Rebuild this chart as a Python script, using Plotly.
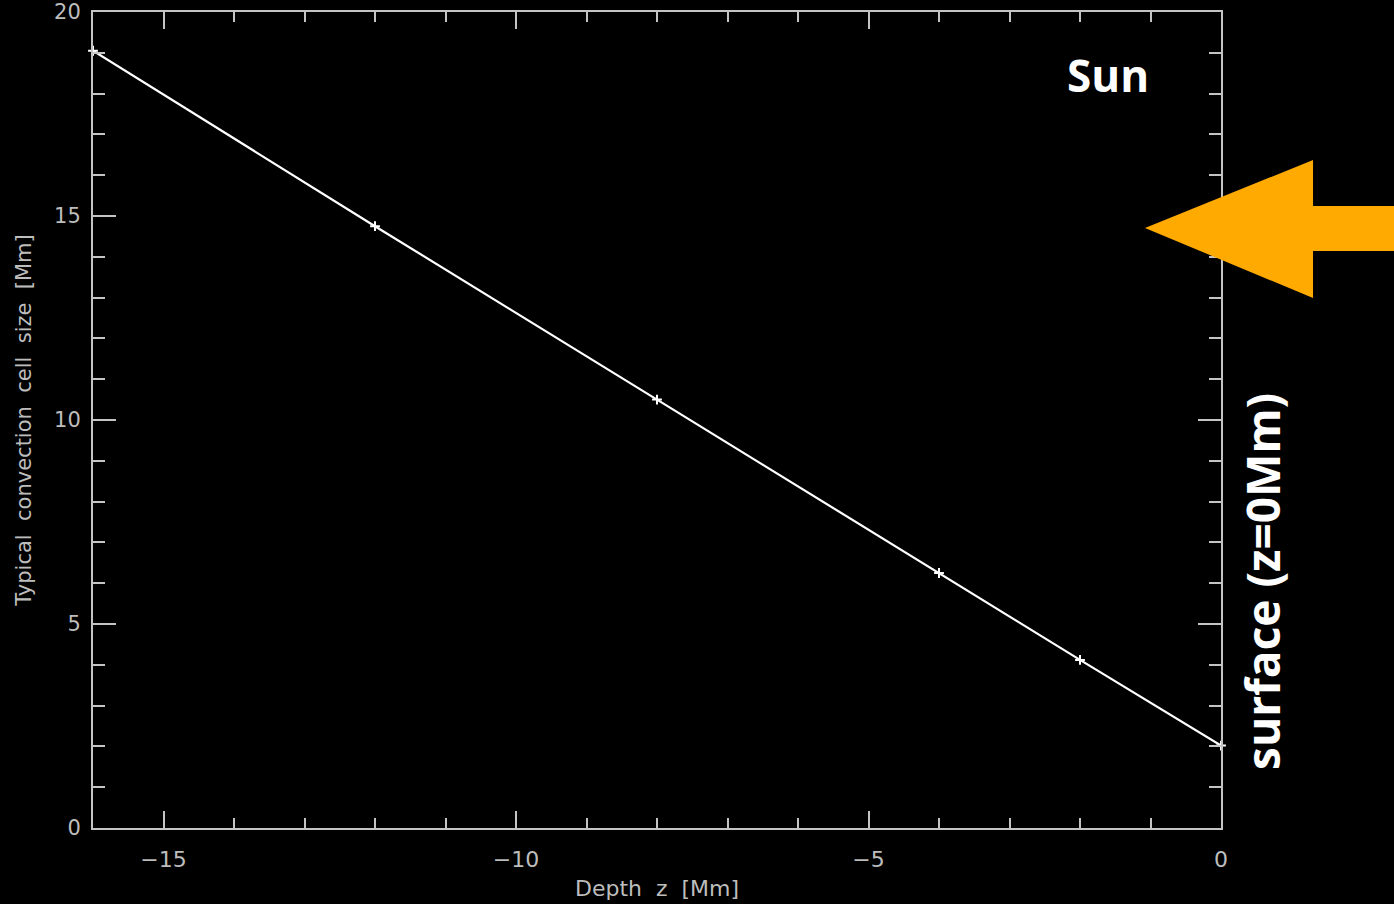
import plotly.graph_objects as go

# Data
depth_z = [-16, -12, -8, -4, -2, 0]
cell_size = [19.05, 14.75, 10.5, 6.25, 4.12, 2.02]

x_tickvals = [-15, -10, -5, 0]
x_ticktext = ["\u221215", "\u221210", "\u22125", "0"]
y_tickvals = [0, 5, 10, 15, 20]
y_ticktext = ["0", "5", "10", "15", "20"]

AXIS_COL = "#c4c4c4"
LABEL_COL = "#bdbdbd"
ORANGE = "#FFAA00"

fig = go.Figure()
fig.add_trace(go.Scatter(
    x=depth_z, y=cell_size, mode="lines+markers",
    line=dict(color="white", width=2.2),
    marker=dict(symbol="cross-thin", size=7, line=dict(width=2, color="white"), color="white"),
    cliponaxis=False, showlegend=False, hoverinfo="skip",
))

fig.update_xaxes(
    range=[-16, 0], tickvals=x_tickvals, ticktext=x_ticktext, automargin=False,
    showgrid=False, zeroline=False, showline=True, linecolor=AXIS_COL, linewidth=2,
    mirror="ticks", ticks="inside", ticklen=17, tickwidth=2, tickcolor=AXIS_COL,
    minor=dict(dtick=1, ticks="inside", ticklen=10, tickwidth=2, tickcolor=AXIS_COL, showgrid=False),
    tickfont=dict(family="DejaVu Sans", size=22, color=LABEL_COL), ticklabelstandoff=11,
    title=dict(text="Depth  z  [Mm]", font=dict(family="DejaVu Sans", size=22, color=LABEL_COL), standoff=9),
)
fig.update_yaxes(
    range=[0, 20], tickvals=y_tickvals, ticktext=y_ticktext, automargin=False,
    showgrid=False, zeroline=False, showline=True, linecolor=AXIS_COL, linewidth=2,
    mirror="ticks", ticks="inside", ticklen=23, tickwidth=2, tickcolor=AXIS_COL,
    minor=dict(dtick=1, ticks="inside", ticklen=12, tickwidth=2, tickcolor=AXIS_COL, showgrid=False),
    tickfont=dict(family="DejaVu Sans", size=21, color=LABEL_COL), ticklabelstandoff=6,
    title=dict(text="Typical  convection  cell  size  [Mm]", font=dict(family="DejaVu Sans", size=21, color=LABEL_COL), standoff=17),
)

# Orange arrow pointing left (paper coordinates)
arrow_path = ("M 0.9326 0.7353 L 1.0816 0.8186 L 1.0816 0.7623 L 1.16 0.7623 "
              "L 1.16 0.7071 L 1.0816 0.7071 L 1.0816 0.6495 Z")
fig.add_shape(type="path", path=arrow_path, xref="paper", yref="paper",
              fillcolor=ORANGE, line=dict(width=0), layer="above")

fig.add_annotation(text="<b>Sun</b>", xref="paper", yref="paper", x=0.8998, y=0.9228,
                   showarrow=False, font=dict(family="Open Sans", size=44, color="white"),
                   xanchor="center", yanchor="middle")
fig.add_annotation(text="<b>surface (z=0Mm)</b>", xref="paper", yref="paper", x=1.0363, y=0.3027,
                   showarrow=False, textangle=-90, font=dict(family="Open Sans", size=46, color="white"),
                   xanchor="center", yanchor="middle")

fig.update_layout(
    width=1394, height=904, autosize=False,
    margin=dict(l=93, r=173, t=12, b=76),
    paper_bgcolor="black", plot_bgcolor="black",
)

fig.write_html("out.html")
